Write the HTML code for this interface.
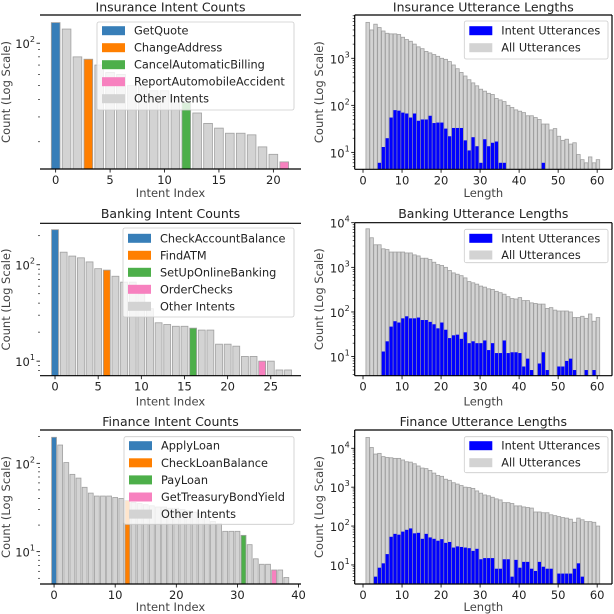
<!DOCTYPE html>
<html><head><meta charset="utf-8"><style>
html,body{margin:0;padding:0;background:#fff}
svg{display:block;font-family:"DejaVu Sans","Liberation Sans",sans-serif}
</style></head><body>
<svg id="fig" width="614" height="614" viewBox="0 0 614 614"></svg>
<script>
// ---- data ----
const insIntentCounts=[140,126,80,77,70,62,60,50,50,46,46,42,38,32,27,25,23,23,22.4,18.4,16.3,14.4];
const insHighlight=[0,3,12,21];
const insLegend=["GetQuote","ChangeAddress","CancelAutomaticBilling","ReportAutomobileAccident","Other Intents"];
const bankIntentCounts=[231,135,123,118,107,91,88,76,66,66,50,35,25,24,23,23,22,21,21,15,15,14.3,11.2,11.2,10,10,8.1,8.1];
const bankHighlight=[0,6,16,24];
const bankLegend=["CheckAccountBalance","FindATM","SetUpOnlineBanking","OrderChecks","Other Intents"];
const finIntentCounts=[197,161,102,75,68,53.5,46,42.6,42.6,42.6,41,40,38,36,35,34,33,32,32,31,31,30,29,28,27,26,22,20.7,17,17,17,15.3,12,8.3,7.2,7.2,6.2,6.2,5.1];
const finHighlight=[0,12,31,36];
const finLegend=["ApplyLoan","CheckLoanBalance","PayLoan","GetTreasuryBondYield","Other Intents"];

const insAllLengths=[5800,4000,5300,4500,3800,3400,3300,3300,3200,2800,2500,2300,2000,1750,1600,1400,1300,1200,1100,1000,950,850,720,600,500,420,350,300,260,220,200,180,170,140,130,120,100,90,80,75,70,60,60,55,50,40,40,30,32,22,18,19,15,16,9,7,6,8,6,7];
const insIntentLengths=[0,0,0,6,13,20,55,79,77,70,67,55,67,47,50,50,60,42,43,43,32,22,33,33,33,18,11,21,13.5,6,19,13.5,16,17,6,6,0,0,0,0,0,0,0,0,0,6,0,0,0,0,0,0,0,0,0,0,0,0,0,0];
const bankAllLengths=[7300,4600,3200,3200,2600,2500,2200,2200,2200,2200,2100,2100,1900,1800,1600,1600,1500,1300,1150,1100,1000,850,750,700,650,580,480,450,420,380,360,330,320,290,270,250,220,200,195,210,180,180,160,155,150,150,120,125,110,105,105,105,100,75,75,80,72,90,62,75];
const bankIntentLengths=[0,0,0,0,13,22,47,62,58,72,80,72,72,75,66,66,60,53,43,58,40,26,30,31,25,35,20,22,20,20,23,14,20,12,12,23,12,12.5,12.5,12,6,9,5,0,7,12.5,5,0,0,6,6,8,9,5,0,0,5,0,5,0];
const finAllLengths=[19000,10500,7100,7400,6100,5800,5700,5500,5500,5000,4500,4400,4000,3500,3100,3000,2700,2300,2000,1900,1600,1500,1300,1200,1100,1000,980,930,800,700,630,600,550,500,470,400,400,380,330,330,310,300,290,230,230,220,220,195,185,175,165,160,150,125,160,145,130,130,125,100];
const finIntentLengths=[0,0,5,8.5,11,19,53,63,60,72,80,87,65,67,47,63,51,47,42,46,37,39,28,30,29,28,27,23,26,14,15,15,15,8,8,14,14,5,13.5,8.5,12,12,8,7,12,9,8,8,0,6,6,6,6,8,11,5,0,0,0,0];

const HL=["#377eb8","#ff7f00","#4daf4a","#f781bf"];
const svg=document.getElementById('fig');
const NS="http://www.w3.org/2000/svg";
function mk(tag,attrs,parent){const e=document.createElementNS(NS,tag);for(const k in attrs)e.setAttribute(k,attrs[k]);(parent||svg).appendChild(e);return e;}
function txt(s,x,y,size,anchor,parent,extra){const t=mk('text',Object.assign({x:x,y:y,'font-size':size,'text-anchor':anchor||'middle','dominant-baseline':'central',fill:'#222'},extra||{}),parent);t.textContent=s;return t;}
function pow(x,y,exp,size,parent){const t=mk('text',{x:x,y:y,'font-size':size,'text-anchor':'end','dominant-baseline':'central',fill:'#222'},parent);t.textContent='10';const s=document.createElementNS(NS,'tspan');s.setAttribute('font-size',size*0.7);s.setAttribute('dy',-5);s.textContent=exp;t.appendChild(s);return t;}

function panel(p){
  const g=mk('g',{});
  
  
  const X=v=>p.x0+(v-p.xmin)/(p.xmax-p.xmin)*(p.x1-p.x0);
  const Y=v=>p.yb-(Math.log10(v)-p.lmin)/(p.lmax-p.lmin)*(p.yb-p.yt);
  const clipId='c'+p.name;
  const cp=mk('clipPath',{id:clipId},g);mk('rect',{x:p.x0,y:p.yt,width:p.x1-p.x0,height:p.yb-p.yt},cp);
  const bars=mk('g',{'clip-path':'url(#'+clipId+')'},g);
  
  
  if(p.type==='intent'){
    p.counts.forEach((v,i)=>{
      const hi=p.hl.indexOf(i);
      const w=0.8*(X(1)-X(0));
      const r=mk('rect',{x:X(i)-w/2,y:Y(v),width:w,height:p.yb-Y(v)+2,fill:hi>=0?HL[hi]:'#d3d3d3',stroke:'#a0a0a0','stroke-width':0.8},bars);
      
      
    });
  } else {
    const w=X(1)-X(0);
    p.all.forEach((v,i)=>{if(v<=0)return;
      const r=mk('rect',{x:X(i+1.2)-w*0.45,y:Y(v),width:w*0.9,height:p.yb-Y(v)+2,fill:'#d3d3d3',stroke:'#a0a0a0','stroke-width':0.8},bars);
      
      
    });
    p.intent.forEach((v,i)=>{if(v<=0)return;
      const r=mk('rect',{x:X(i+1.2)-w*0.42,y:Y(v),width:w*0.84,height:p.yb-Y(v)+2,fill:'#0000ff'},bars);
      
      
    });
  }
  const sp={stroke:'#000','stroke-width':1.2};
  mk('line',Object.assign({x1:p.x0,x2:p.x1,y1:p.yt,y2:p.yt},sp),g);
  mk('line',Object.assign({x1:p.x0,x2:p.x1,y1:p.yb,y2:p.yb},sp),g);
  if(p.type!=='intent'){mk('line',Object.assign({x1:p.x0,x2:p.x0,y1:p.yt,y2:p.yb},sp),g);mk('line',Object.assign({x1:p.x1,x2:p.x1,y1:p.yt,y2:p.yb},sp),g);}
  p.xticks.forEach(t=>{const x=X(t);mk('line',{x1:x,x2:x,y1:p.yb,y2:p.yb+3.5,stroke:'#000','stroke-width':0.8},g);
    const l=txt(String(t),x,p.yb+11,11.5,'middle',g);});
  for(let e=0;e<=5;e++){for(let m=1;m<10;m++){const v=m*Math.pow(10,e);const lv=Math.log10(v);
    if(lv<p.lmin||lv>p.lmax)continue;const y=Y(v);
    mk('line',{x1:p.x0-(m===1?3.5:2),x2:p.x0,y1:y,y2:y,stroke:'#000','stroke-width':m===1?0.8:0.6},g);
    if(m===1)pow(p.x0-5,y+1,String(e),11.5,g);}}
  const ti=txt(p.title,(p.x0+p.x1)/2,p.titleY,12.5,'middle',g);
  const xl=txt(p.xlabel,(p.x0+p.x1)/2,p.xlabelY,11.5,'middle',g,{fill:'#444'});
  const yc=(p.yt+p.yb)/2;
  const yl=txt('Count (Log Scale)',p.ylabelX,yc,11.5,'middle',g,{fill:'#444',transform:'rotate(-90 '+p.ylabelX+' '+yc+')'});
  const L=p.legend;
  const lg=mk('g',{},g);
  
  
  mk('rect',{x:L.x,y:L.y,width:L.w,height:L.h,rx:2,fill:'#fff','fill-opacity':0.8,stroke:'#ccc','stroke-width':0.8},lg);
  L.items.forEach((it,i)=>{const y=L.row0+i*L.dy;
    const e=mk('g',{},lg);
    
    
    mk('rect',{x:L.x+5,y:y-4.5,width:23,height:9,fill:it.c},e);
    txt(it.t,L.x+37,y+0.5,11.3,'start',e);});
}

const leftItems=(names)=>names.map((n,i)=>({t:n,c:i<4?HL[i]:'#d3d3d3'}));
const rightItems=[{t:'Intent Utterances',c:'#0000ff'},{t:'All Utterances',c:'#d3d3d3'}];

panel({name:'insurance-intent-counts',type:'intent',counts:insIntentCounts,hl:insHighlight,x0:40,x1:301,xmin:-1.44,xmax:22.54,yt:15,yb:169,lmin:1.108,lmax:2.2,
  xticks:[0,5,10,15,20],title:'Insurance Intent Counts',titleY:7,xlabel:'Intent Index',xlabelY:193,ylabelX:6,
  legend:{x:97,y:22,w:197,h:88,row0:30.7,dy:17,items:leftItems(insLegend)}});
panel({name:'insurance-utterance-lengths',type:'len',all:insAllLengths,intent:insIntentLengths,x0:354.7,x1:612,xmin:-2.13,xmax:63.8,yt:15,yb:169.3,lmin:0.64,lmax:3.92,
  xticks:[0,10,20,30,40,50,60],title:'Insurance Utterance Lengths',titleY:7,xlabel:'Length',xlabelY:193,ylabelX:319,
  legend:{x:464.3,y:21,w:143.7,h:38,row0:30.7,dy:17,items:rightItems}});
panel({name:'banking-intent-counts',type:'intent',counts:bankIntentCounts,hl:bankHighlight,x0:40,x1:301,xmin:-1.74,xmax:28.5,yt:223.3,yb:375.7,lmin:0.849,lmax:2.43,
  xticks:[0,5,10,15,20,25],title:'Banking Intent Counts',titleY:213.3,xlabel:'Intent Index',xlabelY:401.7,ylabelX:6,
  legend:{x:123,y:228,w:171,h:89,row0:238.3,dy:17,items:leftItems(bankLegend)}});
panel({name:'banking-utterance-lengths',type:'len',all:bankAllLengths,intent:bankIntentLengths,x0:354.7,x1:612,xmin:-2.13,xmax:63.8,yt:222.7,yb:375.7,lmin:0.572,lmax:4.0,
  xticks:[0,10,20,30,40,50,60],title:'Banking Utterance Lengths',titleY:213.3,xlabel:'Length',xlabelY:401.7,ylabelX:319,
  legend:{x:464.3,y:229.3,w:143.7,h:33.4,row0:238.3,dy:16.7,items:rightItems}});
panel({name:'finance-intent-counts',type:'intent',counts:finIntentCounts,hl:finHighlight,x0:40,x1:301,xmin:-2.3,xmax:40.4,yt:430,yb:584,lmin:0.634,lmax:2.377,
  xticks:[0,10,20,30,40],title:'Finance Intent Counts',titleY:421.7,xlabel:'Intent Index',xlabelY:607,ylabelX:6,
  legend:{x:124,y:436.7,w:170,h:87.6,row0:445.7,dy:17.1,items:leftItems(finLegend)}});
panel({name:'finance-utterance-lengths',type:'len',all:finAllLengths,intent:finIntentLengths,x0:354.7,x1:612,xmin:-2.13,xmax:63.8,yt:430,yb:584,lmin:0.51,lmax:4.47,
  xticks:[0,10,20,30,40,50,60],title:'Finance Utterance Lengths',titleY:421.7,xlabel:'Length',xlabelY:607,ylabelX:319,
  legend:{x:464.3,y:436.7,w:143.7,h:36,row0:445.7,dy:17,items:rightItems}});
</script>
</body></html>
